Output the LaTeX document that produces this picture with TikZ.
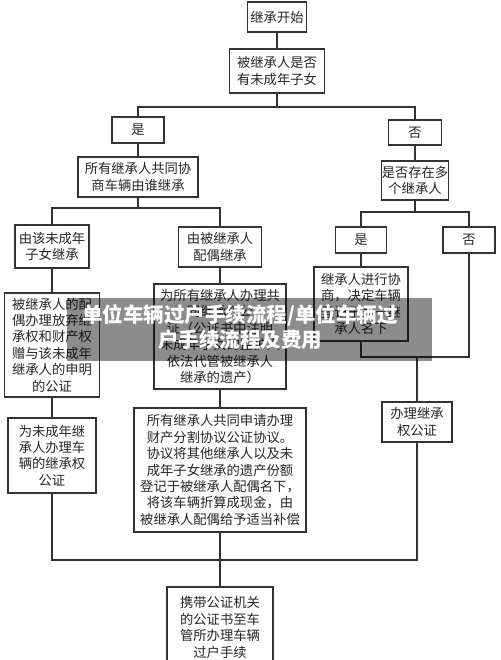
\documentclass[tikz,border=0pt]{standalone}
\usepackage{fontspec}
\newfontfamily\cjk{Noto Sans CJK SC}
\begin{document}
\begin{tikzpicture}[x=1pt,y=-1pt,
  box/.style={draw=black!80, line width=1.1pt, inner sep=0pt, align=center,
    text=black!85, font=\cjk\fontsize{13.3}{16.4}\selectfont},
  conn/.style={draw=black!80, line width=1.1pt},
  wmtext/.style={text=white, align=center, font=\cjk\bfseries\fontsize{20.5}{25}\selectfont}]
\useasboundingbox[fill=white] (0,0) rectangle (500,660);
% nodes
\node[box, minimum width=59pt, minimum height=30pt] (start) at (277,17) {继承开始};
\node[box, minimum width=95pt, minimum height=44pt] (q1) at (277,71) {被继承人是否\\有未成年子女};
\node[box, minimum width=52pt, minimum height=26pt] (yes1) at (138,130) {是};
\node[box, minimum width=120pt, minimum height=40pt] (all1) at (138,177) {所有继承人共同协\\商车辆由谁继承};
\node[box, minimum width=53pt, minimum height=25pt] (no1) at (415,132.5) {否};
\node[box, minimum width=64pt, minimum height=39pt] (multi) at (415,180.5) {是否存在多\\个继承人};
\node[box, minimum width=74pt, minimum height=43pt] (minor) at (52,246.5) {由该未成年\\子女继承};
\node[box, minimum width=83pt, minimum height=40pt] (spouse) at (220,247) {由被继承人\\配偶继承};
\node[box, minimum width=51pt, minimum height=26pt] (yes2) at (361,240) {是};
\node[box, minimum width=52pt, minimum height=26pt] (no2) at (469,240) {否};
\node[box, minimum width=95pt, minimum height=104pt] (disclaim) at (52,345)
  {被继承人的配\\偶办理放弃继\\承权和财产权\\赠与该未成年\\继承人的申明\\的公证};
\node[box, minimum width=132pt, minimum height=105pt] (joint) at (220,336.5)
  {为所有继承人办理共\\同继承权公\\证（公证书中注明\\未成年子女的监护人\\依法代管被继承人\\继承的遗产）};
\node[box, minimum width=94pt, minimum height=74pt] (consult) at (361,304)
  {继承人进行协\\商，决定车辆\\登记于某一继\\承人名下};
\node[box, minimum width=88pt, minimum height=75pt] (lowerleft) at (52,455.5)
  {为未成年继\\承人办理车\\辆的继承权\\公证};
\node[box, minimum width=172pt, minimum height=124pt] (agree) at (220,470)
  {所有继承人共同申请办理\\财产分割协议公证协议。\\协议将其他继承人以及未\\成年子女继承的遗产份额\\登记于被继承人配偶名下，\\将该车辆折算成现金，由\\被继承人配偶给予适当补偿};
\node[box, minimum width=70pt, minimum height=40pt] (rlow) at (417,422) {办理继承\\权公证};
\node[box, minimum width=106pt, minimum height=81pt] (final) at (220,627.5)
  {携带公证机关\\的公证书至车\\管所办理车辆\\过户手续};
% junction coordinates
\coordinate (t1) at (277,107);
\coordinate (t2) at (138,208);
\coordinate (t3) at (415,212);
\coordinate (t4) at (417,357);
\coordinate (t5) at (220,560);
% connectors
\draw[conn] (start.south) -- (q1.north);
\draw[conn] (q1.south) -- (t1);
\draw[conn] (yes1.north) |- (t1) -| (no1.north);
\draw[conn] (yes1.south) -- (all1.north);
\draw[conn] (all1.south) -- (t2);
\draw[conn] (minor.north) |- (t2) -| (spouse.north);
\draw[conn] (no1.south) -- (multi.north);
\draw[conn] (multi.south) -- (t3);
\draw[conn] (yes2.north) |- (t3) -| (no2.north);
\draw[conn] (minor.south) -- (disclaim.north);
\draw[conn] (disclaim.south) -- (lowerleft.north);
\draw[conn] (spouse.south) -- (joint.north);
\draw[conn] (joint.south) -- (agree.north);
\draw[conn] (yes2.south) -- (consult.north);
\draw[conn] (consult.south) |- (t4) -| (no2.south);
\draw[conn] (t4) -- (rlow.north);
\draw[conn] (lowerleft.south) |- (t5) -| (rlow.south);
\draw[conn] (agree.south) -- (final.north);
% watermark banner
\node[fill=black, fill opacity=0.45, minimum width=365pt, minimum height=63pt, inner sep=0pt] (wm) at (249.5,329.5) {};
\node[wmtext] (wmt) at (240,327.5) {单位车辆过户手续流程/单位车辆过\\户手续流程及费用};
\end{tikzpicture}
\end{document}
